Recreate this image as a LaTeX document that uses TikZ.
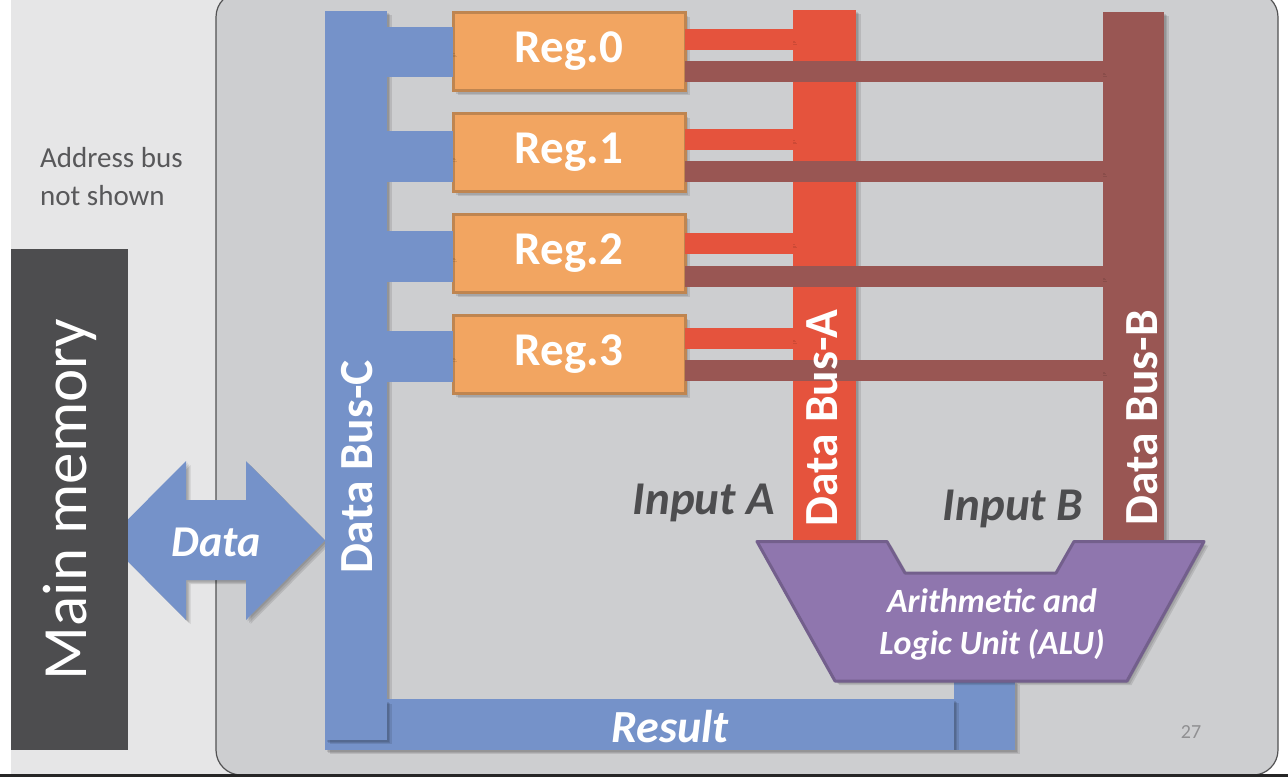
\documentclass[tikz,border=0pt]{standalone}
\usepackage{fontspec}
\setmainfont{Carlito}
\usetikzlibrary{calc}
\definecolor{panelc}{HTML}{CDCED0}
\definecolor{sidec}{HTML}{E6E6E7}
\definecolor{memc}{HTML}{4D4D4F}
\definecolor{bluec}{HTML}{7592C9}
\definecolor{redc}{HTML}{E5533D}
\definecolor{brownc}{HTML}{995653}
\definecolor{regc}{HTML}{F2A561}
\definecolor{regl}{HTML}{BF8550}
\definecolor{aluc}{HTML}{8F76AE}
\definecolor{alul}{HTML}{735F8C}
\definecolor{txtc}{HTML}{58585A}
\tikzset{
  fshadow/.style={
    preaction={fill=black,draw=none,opacity=.10,transform canvas={shift={(1.5pt,-1.5pt)}}},
    preaction={fill=black,draw=none,opacity=.10,transform canvas={shift={(3pt,-3pt)}}},
    preaction={fill=black,draw=none,opacity=.10,transform canvas={shift={(4.5pt,-4pt)}}}},
  lshadow/.style={
    preaction={draw=black,opacity=.10,transform canvas={shift={(1.5pt,-1.5pt)}}},
    preaction={draw=black,opacity=.10,transform canvas={shift={(3pt,-3pt)}}},
    preaction={draw=black,opacity=.10,transform canvas={shift={(4pt,-4.5pt)}}}},
  busbox/.style={rectangle,inner sep=0pt,outer sep=0pt,draw=none,fshadow},
  regbox/.style={rectangle,inner sep=0pt,outer sep=0pt,minimum width=232pt,minimum height=78pt,
    fill=regc,draw=regl,line width=3pt,fshadow,text=white,font=\bfseries\fontsize{47}{47}\selectfont},
  blab/.style={text=white,font=\bfseries\fontsize{47.5}{47.5}\selectfont,rotate=90,inner sep=0pt},
  ilab/.style={text=memc,font=\bfseries\itshape\fontsize{47}{47}\selectfont,inner sep=0pt},
  wlab/.style={text=white,font=\bfseries\itshape\fontsize{46}{46}\selectfont,inner sep=0pt},
  redstub/.style={line width=21pt,draw=redc,lshadow},
  brownstub/.style={line width=21pt,draw=brownc,lshadow},
  bluestub/.style={line width=50.5pt,draw=bluec,lshadow},
}
\begin{document}
\begin{tikzpicture}[x=1pt,y=-1pt]
\useasboundingbox (0,0) rectangle (1288,777);
\clip (0,0) rectangle (1288,777);
\fill[white] (0,0) rectangle (1288,777);
\fill[sidec] (11,0) rectangle (260,777);
\draw[draw=black!60!panelc,fill=panelc,line width=1.2pt,rounded corners=25pt] (216,-8) rectangle (1278,775);
\fill[black!85] (0,774) rectangle (1288,777);

% double arrow runs under the memory block
\path[fill=bluec,fshadow] (107,540.5) -- (186,461) -- (186,500) -- (246,500) -- (246,461) -- (325,540.5)
  -- (246,620) -- (246,580) -- (186,580) -- (186,620) -- cycle;
\node[text=white,font=\bfseries\itshape\fontsize{44}{44}\selectfont,inner sep=0pt] (datalab) at (216,542) {Data};

\node[rectangle,fill=memc,inner sep=0pt,minimum width=117pt,minimum height=501pt,anchor=center] (mem) at (69.5,499.5) {};
\node[rotate=90,text=white,font=\fontsize{63}{63}\selectfont,inner sep=0pt] (memlab) at (mem.center) {Main memory};

\node[text=txtc,font=\fontsize{29}{38}\selectfont,align=left,anchor=west,inner sep=0pt] (addr) at (40,177) {Address bus\\not shown};

% registers
\node[regbox] (reg0) at (569,51.5) {Reg.0};
\node[regbox] (reg1) at (569,152.5) {Reg.1};
\node[regbox] (reg2) at (569,253.5) {Reg.2};
\node[regbox] (reg3) at (569,354.5) {Reg.3};

% data bus A, data bus B
\node[busbox,fill=redc,minimum width=63pt,minimum height=530pt] (busA) at (824.5,275) {};
\node[busbox,fill=brownc,minimum width=61pt,minimum height=528pt] (busB) at (1133.5,276) {};

% data bus C
\node[busbox,fill=bluec,minimum width=62pt,minimum height=739pt] (busC) at (356,380.5) {};

\foreach \r/\o in {reg0/0.5,reg1/4,reg2/3,reg3/2}{
  \draw[bluestub] ([yshift=-\o pt]\r.west -| busC.east) -- ([yshift=-\o pt]\r.west);
}
\foreach \r/\o in {reg0/12,reg1/13.5,reg2/10.5,reg3/16}{
  \draw[redstub] ([yshift=\o pt]\r.east) -- ([yshift=\o pt]\r.east -| busA.west);
}
\foreach \r/\o in {reg0/20,reg1/19,reg2/23,reg3/16}{
  \draw[brownstub] ([yshift=-\o pt]\r.east) -- ([yshift=-\o pt]\r.east -| busB.west);
}

% result path
\node[busbox,fill=bluec,minimum width=61pt,minimum height=69pt] (resblock) at (984.5,715.5) {};
\node[busbox,fill=bluec,minimum width=567pt,minimum height=51pt] (resbar) at (670.5,724.5) {};
\node[busbox,preaction={},fill=bluec,minimum width=62pt,minimum height=40pt] (cornerC) at (356,720) {};

% ALU
\draw[fill=aluc,draw=alul,line width=3pt,line join=round,fshadow]
  (757,541.5) -- (887,541.5) -- (905,573) -- (1056,573) -- (1074,541.5) -- (1204,541.5) -- (1127,681) -- (835,681) -- cycle;
\node[text=white,font=\bfseries\itshape\fontsize{34}{42}\selectfont,align=center,inner sep=0pt] (alu) at (992,624) {Arithmetic and\\Logic Unit (ALU)};

% labels
\node[blab] (labC) at (357,467) {Data Bus-C};
\node[blab] (labA) at (822,418) {Data Bus-A};
\node[blab] (labB) at (1142,418) {Data Bus-B};
\node[ilab] (inA) at (704,503) {Input A};
\node[ilab] (inB) at (1013,509) {Input B};
\node[wlab] (res) at (670,727) {Result};
\node[text=black!30!panelc,font=\fontsize{20}{20}\selectfont,inner sep=0pt] (page) at (1191,732) {27};
\end{tikzpicture}
\end{document}
